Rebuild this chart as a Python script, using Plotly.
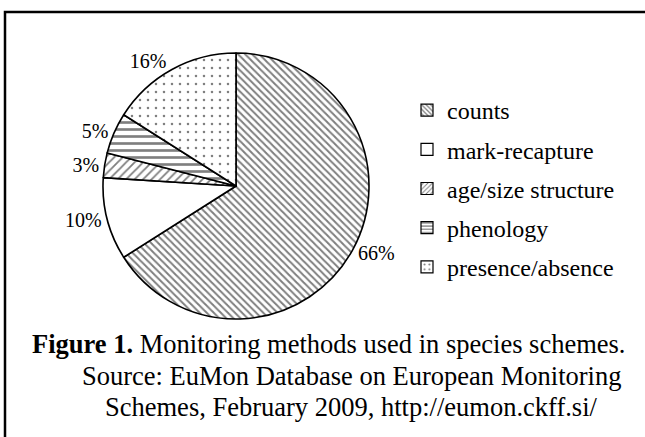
import plotly.graph_objects as go

labels = ["counts", "mark-recapture", "age/size structure", "phenology", "presence/absence"]
values = [66, 10, 3, 5, 16]
shapes = ["\\", "", "/", "-", "."]
pattern_sizes = [5, 6, 6, 7, 8]
pattern_solidity = [0.4, 0.3, 0.3, 0.38, 0.08]

caption_lines = [
    "<b>Figure 1.</b> Monitoring methods used in species schemes.",
    "Source: EuMon Database on European Monitoring",
    "Schemes, February 2009, http://eumon.ckff.si/",
]

W, H = 645, 437
FONT = "Liberation Serif"

fig = go.Figure()

cx, cy, r = 236, 186, 133
fig.add_trace(go.Pie(
    labels=labels, values=values, sort=False, direction="clockwise", rotation=0,
    textinfo="percent", textposition="outside", texttemplate="%{percent:.0%}",
    textfont=dict(family=FONT, size=20, color="black"),
    marker=dict(
        colors=["white"] * 5,
        line=dict(color="black", width=1.6),
        pattern=dict(shape=shapes, fgcolor="black", bgcolor="white",
                     size=pattern_sizes, solidity=pattern_solidity, fillmode="overlay"),
    ),
    domain=dict(x=[(cx - r) / W, (cx + r) / W], y=[1 - (cy + r) / H, 1 - (cy - r) / H]),
    showlegend=False, hoverinfo="label+percent",
))

for i, lab in enumerate(labels):
    fig.add_trace(go.Bar(
        x=[None], y=[None], name=lab, legendgroup=lab,
        marker=dict(color="white", line=dict(color="black", width=1.2),
                    pattern=dict(shape=shapes[i], fgcolor="black", bgcolor="white",
                                 size=4 if shapes[i] != "." else 6,
                                 solidity=pattern_solidity[i] if shapes[i] != "." else 0.15)),
    ))

annotations = []
centers = [329, 351, 351]
baselines = [354, 386, 417]
for line, xc, yb in zip(caption_lines, centers, baselines):
    annotations.append(dict(
        text=line, x=xc / W, y=1 - (yb + 7) / H, xref="paper", yref="paper",
        xanchor="center", yanchor="bottom", showarrow=False,
        font=dict(family=FONT, size=26.5, color="black"),
    ))

fig.update_layout(
    width=W, height=H, margin=dict(l=0, r=0, t=0, b=0),
    paper_bgcolor="white", plot_bgcolor="white",
    font=dict(family=FONT, color="black"),
    xaxis=dict(visible=False), yaxis=dict(visible=False),
    legend=dict(x=407 / W, y=1 - 88 / H, xanchor="left", yanchor="top",
                font=dict(family=FONT, size=24, color="black"),
                tracegroupgap=5, itemwidth=30, bgcolor="rgba(0,0,0,0)"),
    annotations=annotations,
    shapes=[dict(type="rect", xref="paper", yref="paper",
                 x0=5 / W, y0=-0.1, x1=1.1, y1=1 - 12 / H,
                 line=dict(color="black", width=2.5))],
)

fig.write_html("out.html", config={"displayModeBar": False},
               post_script="document.body.style.margin='0';document.body.style.overflow='hidden';")
